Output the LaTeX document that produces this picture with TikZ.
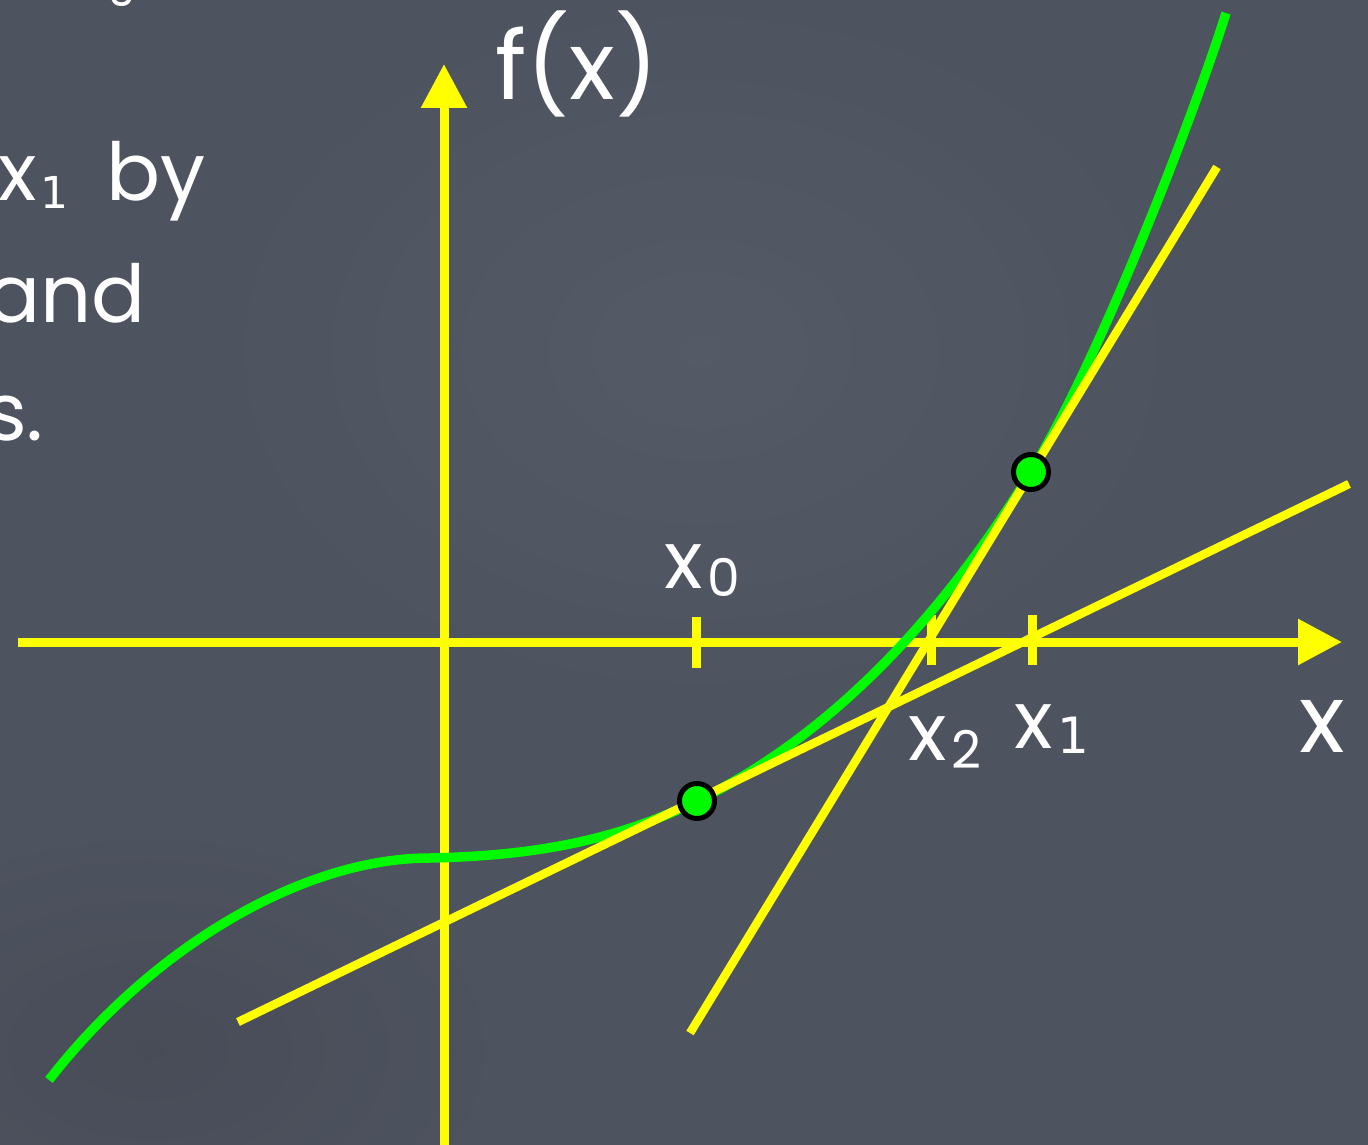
\documentclass[tikz,border=0pt]{standalone}
\usepackage{fontspec}
\setmainfont{Poppins}
\newfontfamily\onefont{DejaVu Sans}
\usetikzlibrary{arrows.meta}
\definecolor{board}{RGB}{78,83,96}
\definecolor{boardlight}{RGB}{90,95,108}
\definecolor{boarddark}{RGB}{68,72,82}
\definecolor{ylw}{RGB}{255,255,0}
\definecolor{grn}{RGB}{0,250,0}
\newcommand\lowsub[3]{\raisebox{-#2pt}{\fontsize{#1}{#1}\selectfont #3}}
\newcommand\onesub[2]{\raisebox{-#2pt}{\onefont\fontsize{#1}{#1}\selectfont 1}}
\tikzset{
  axisline/.style={draw=ylw, line width=9pt, -{Triangle[length=44pt,width=44pt]}},
  tickline/.style={draw=ylw, line width=9pt},
  tangentline/.style={draw=ylw, line width=8.5pt},
  curveline/.style={draw=grn, line width=9.5pt},
  dotnode/.style={circle, fill=grn, draw=black, line width=5pt, minimum size=35pt, inner sep=0pt},
  bodytext/.style={text=white, inner sep=0pt, font=\fontsize{80}{96}\selectfont},
  labeltext/.style={text=white, inner sep=0pt, font=\fontsize{80}{96}\selectfont},
  bigtext/.style={text=white, inner sep=0pt, font=\fontsize{95}{110}\selectfont}
}
\begin{document}
\begin{tikzpicture}[x=1pt,y=-1pt]
\useasboundingbox (0,0) rectangle (1368,1145);
\clip (0,0) rectangle (1368,1145);
% chalkboard background
\fill[board] (0,0) rectangle (1368,1145);
\shade[inner color=boardlight, outer color=board, opacity=0.6] (700,350) ellipse (520 and 380);
\shade[inner color=boarddark, outer color=board, opacity=0.6] (150,1050) ellipse (350 and 220);
% left text (cut by the page edge)
\node[bodytext, anchor=base west] (t0) at (-6,-2) {e x\kern4pt\lowsub{46}{9}{0}.};
\node[bodytext, anchor=base east] (t1) at (206,200) {x\kern4pt\onesub{44}{9}\hspace{38pt}by};
\node[bodytext, anchor=base east] (t2) at (146,322) {and};
\node[bodytext, anchor=base east] (t3) at (44,440) {s.};
% axes
\coordinate (xstart) at (18,642);
\coordinate (xend) at (1342,642);
\coordinate (ystart) at (444,1160);
\coordinate (yend) at (444,64);
\draw[axisline] (xstart) -- (xend);
\draw[axisline] (ystart) -- (yend);
% ticks
\coordinate (x0a) at (696,617); \coordinate (x0b) at (696,668);
\coordinate (x2a) at (931,615); \coordinate (x2b) at (931,665);
\coordinate (x1a) at (1032,615); \coordinate (x1b) at (1032,665);
\draw[tickline] (x0a) -- (x0b);
\draw[tickline] (x2a) -- (x2b);
\draw[tickline] (x1a) -- (x1b);
% curve
\coordinate (c0) at (49,1080);
\coordinate (cinf) at (430,858);
\coordinate (p0) at (697,801);
\coordinate (p1) at (1031,472);
\coordinate (c1) at (1226,13);
\draw[curveline] (c0) .. controls (150,950) and (300,858) .. (cinf)
  .. controls (520,856) and (607,845) .. (p0)
  .. controls (827,738) and (941,620) .. (p1)
  .. controls (1101,357) and (1195,112) .. (c1);
% tangent lines
\coordinate (l1a) at (238,1022);
\coordinate (l1b) at (1349,484);
\coordinate (l2a) at (690,1033);
\coordinate (l2b) at (1217,167);
\draw[tangentline] (l1a) -- (l1b);
\draw[tangentline] (l2a) -- (l2b);
% points
\node[dotnode] (d0) at (p0) {};
\node[dotnode] (d1) at (p1) {};
% labels
\node[bigtext, anchor=base] (fx) at (577,100) {f(x)};
\node[bigtext, anchor=base] (xl) at (1322,752) {x};
\node[labeltext, anchor=base west] (lx0) at (664,588) {x\kern5pt\lowsub{52}{8}{0}};
\node[labeltext, anchor=base west] (lx2) at (908,760) {x\kern5pt\lowsub{52}{8}{2}};
\node[labeltext, anchor=base west] (lx1) at (1014,748) {x\kern5pt\onesub{50}{5}};
\end{tikzpicture}
\end{document}
